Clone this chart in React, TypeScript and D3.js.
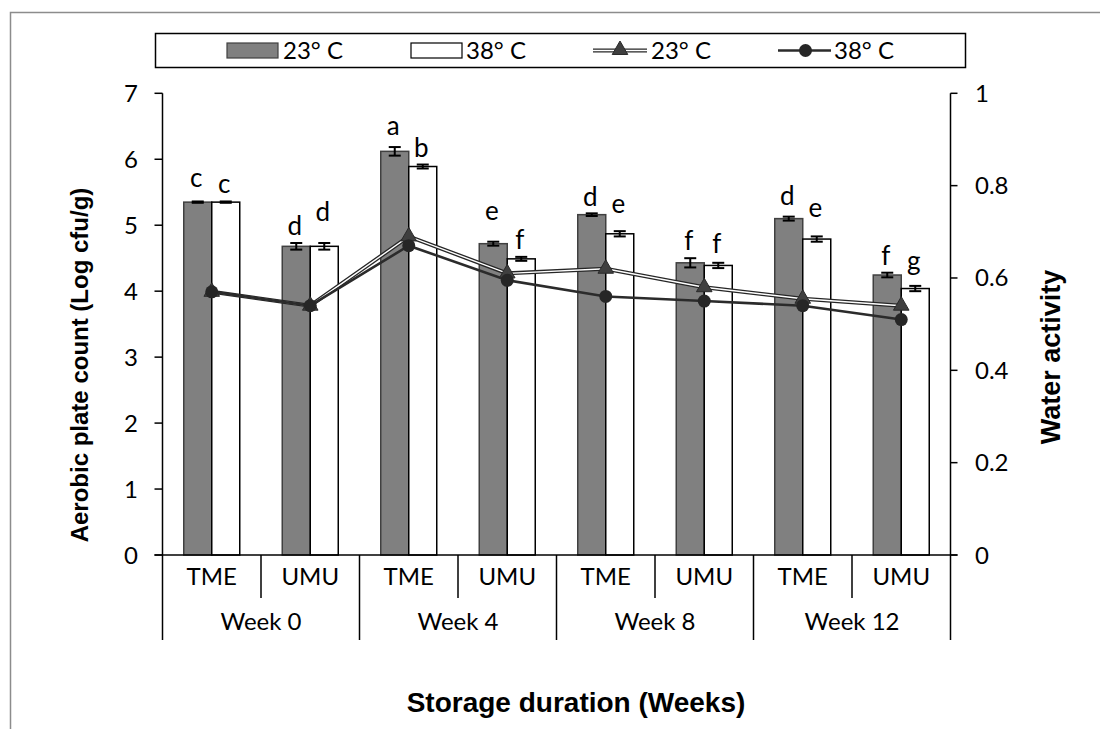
import React from "react";
import * as d3 from "d3";

// Storage duration groups and product codes on the category axis
const weeks = ["Week 0", "Week 4", "Week 8", "Week 12"];
const products = ["TME", "UMU"];
const categories = weeks.flatMap((w) => products.map((p) => `${w}|${p}`));

// Aerobic plate count (Log cfu/g) with standard errors
const apc23 = [5.35, 4.68, 6.12, 4.72, 5.16, 4.43, 5.1, 4.245];
const apc23Err = [0.01, 0.05, 0.065, 0.03, 0.02, 0.07, 0.03, 0.035];
const apc38 = [5.35, 4.68, 5.89, 4.49, 4.87, 4.39, 4.79, 4.04];
const apc38Err = [0.01, 0.05, 0.03, 0.03, 0.04, 0.04, 0.04, 0.04];

// Significance letters above bars
const letters23 = ["c", "d", "a", "e", "d", "f", "d", "f"];
const letters38 = ["c", "d", "b", "f", "e", "f", "e", "g"];

// Water activity
const aw23 = [0.57, 0.54, 0.69, 0.61, 0.62, 0.58, 0.555, 0.54];
const aw38 = [0.57, 0.54, 0.67, 0.595, 0.56, 0.55, 0.54, 0.51];

// Axis ticks
const leftTicks = [0, 1, 2, 3, 4, 5, 6, 7];
const rightTicks = [0, 0.2, 0.4, 0.6, 0.8, 1];

const seriesKeys = ["23", "38"];

// Extra pixel lift of each letter above its error cap (23 °C, 38 °C)
const liftA = [14, 8, 12, 22, 7, 8, 12, 8];
const liftB = [8, 22, 8, 8, 18, 10, 19, 16];

const W = 1100;
const H = 729;
const plot = { left: 162.5, right: 950.5, top: 93.3, bottom: 555 };
const LABEL_FONT = "Lato, 'Open Sans', sans-serif";
const TITLE_FONT = "'Liberation Sans', Arial, sans-serif";

export default function App() {
  const x = d3.scaleBand<string>().domain(categories).range([plot.left, plot.right]).padding(0);
  const inner = d3.scaleBand<string>().domain(seriesKeys).range([-28, 28]).padding(0);
  const yL = d3.scaleLinear().domain([0, 7]).range([plot.bottom, plot.top]);
  const yR = d3.scaleLinear().domain([0, 1]).range([plot.bottom, plot.top]);
  const cx = (i: number) => (x(categories[i]) as number) + x.bandwidth() / 2;

  const line = d3
    .line<number>()
    .x((_, i) => cx(i))
    .y((d) => yR(d));

  const tri = d3.symbol().type(d3.symbolTriangle).size(105)();

  const bars = [
    { key: "23", vals: apc23, errs: apc23Err, letters: letters23, lift: liftA, fill: "#808080", stroke: "#404040" },
    { key: "38", vals: apc38, errs: apc38Err, letters: letters38, lift: liftB, fill: "#ffffff", stroke: "#000000" },
  ];

  const weekBounds = d3.range(weeks.length + 1).map((k) => plot.left + k * 2 * x.bandwidth());

  return (
    <svg
      width={W}
      height={H}
      style={{ position: "absolute", left: 0, top: 0, display: "block", background: "#fff" }}
    >
      {/* outer frame */}
      <rect x={10.5} y={12.5} width={1200} height={800} fill="none" stroke="#8c8c8c" strokeWidth={1.5} />

      {/* legend */}
      <g fontFamily={LABEL_FONT} fontSize={24} fill="#000">
        <rect x={155.5} y={33.5} width={810} height={34} fill="#fff" stroke="#000" strokeWidth={1.5} />
        <rect x={227} y={43} width={51} height={15} fill="#808080" stroke="#404040" strokeWidth={1.2} />
        <text x={283} y={59}>23° C</text>
        <rect x={411} y={43} width={51} height={15} fill="#fff" stroke="#000" strokeWidth={1.2} />
        <text x={466} y={59}>38° C</text>
        <line x1={593} x2={647} y1={50.5} y2={50.5} stroke="#262626" strokeWidth={4} />
        <line x1={593} x2={647} y1={50.5} y2={50.5} stroke="#fff" strokeWidth={1.4} />
        <path d={tri as string} transform="translate(620,50)" fill="#3f3f3f" stroke="#2a2a2a" strokeWidth={1} />
        <text x={651} y={59}>23° C</text>
        <line x1={778} x2={831} y1={50.5} y2={50.5} stroke="#2b2b2b" strokeWidth={2.6} />
        <circle cx={805.5} cy={50.5} r={6.5} fill="#262626" />
        <text x={834} y={59}>38° C</text>
      </g>

      {/* bars */}
      {bars.map((s) =>
        s.vals.map((v, i) => {
          const x0 = (x(categories[i]) as number) + x.bandwidth() / 2 + (inner(s.key) as number);
          return (
            <rect
              key={`b-${s.key}-${i}`}
              x={x0}
              y={yL(v)}
              width={inner.bandwidth()}
              height={yL(0) - yL(v)}
              fill={s.fill}
              stroke={s.stroke}
              strokeWidth={1.5}
            />
          );
        })
      )}

      {/* error bars */}
      {bars.map((s) =>
        s.vals.map((v, i) => {
          const bx = cx(i) + (inner(s.key) as number) + inner.bandwidth() / 2;
          const y1 = yL(v + s.errs[i]);
          const y2 = yL(v - s.errs[i]);
          return (
            <g key={`e-${s.key}-${i}`} stroke="#000" strokeWidth={2}>
              <line x1={bx} x2={bx} y1={y1} y2={y2} />
              <line x1={bx - 6} x2={bx + 6} y1={y1} y2={y1} />
              <line x1={bx - 6} x2={bx + 6} y1={y2} y2={y2} />
            </g>
          );
        })
      )}

      {/* significance letters */}
      <g fontFamily={LABEL_FONT} fontSize={26} textAnchor="middle" fill="#000">
        {bars.map((s) =>
          s.vals.map((v, i) => {
            const bx = cx(i) + (inner(s.key) as number) + inner.bandwidth() / 2;
            return (
              <text key={`l-${s.key}-${i}`} x={bx - 1.5} y={yL(v + s.errs[i]) - s.lift[i]}>
                {s.letters[i]}
              </text>
            );
          })
        )}
      </g>

      {/* water activity lines */}
      <path d={line(aw23) as string} fill="none" stroke="#262626" strokeWidth={4} />
      <path d={line(aw23) as string} fill="none" stroke="#fff" strokeWidth={1.4} />
      {aw23.map((v, i) => (
        <path
          key={`t-${i}`}
          d={tri as string}
          transform={`translate(${cx(i)},${yR(v)})`}
          fill="#3f3f3f"
          stroke="#2a2a2a"
          strokeWidth={1}
        />
      ))}
      <path d={line(aw38) as string} fill="none" stroke="#2b2b2b" strokeWidth={2.6} />
      {aw38.map((v, i) => (
        <circle key={`c-${i}`} cx={cx(i)} cy={yR(v)} r={6.5} fill="#262626" />
      ))}

      {/* left axis */}
      <g fontFamily={LABEL_FONT} fontSize={24} fill="#000">
        <line x1={plot.left} x2={plot.left} y1={plot.top} y2={plot.bottom} stroke="#000" strokeWidth={1.5} />
        {leftTicks.map((t) => (
          <g key={`lt-${t}`}>
            <line x1={plot.left - 8} x2={plot.left} y1={yL(t)} y2={yL(t)} stroke="#000" strokeWidth={1.5} />
            <text x={138} y={yL(t) + 8.5} textAnchor="end">
              {t}
            </text>
          </g>
        ))}
      </g>

      {/* right axis */}
      <g fontFamily={LABEL_FONT} fontSize={24} fill="#000">
        <line x1={plot.right} x2={plot.right} y1={plot.top} y2={plot.bottom} stroke="#000" strokeWidth={1.5} />
        {rightTicks.map((t) => (
          <g key={`rt-${t}`}>
            <line x1={plot.right} x2={plot.right + 7} y1={yR(t)} y2={yR(t)} stroke="#000" strokeWidth={1.5} />
            <text x={975} y={yR(t) + 8.5}>
              {d3.format("~g")(t)}
            </text>
          </g>
        ))}
      </g>

      {/* category axis */}
      <g fontFamily={LABEL_FONT} fontSize={24} fill="#000" textAnchor="middle">
        <line x1={plot.left - 8} x2={plot.right + 7} y1={plot.bottom} y2={plot.bottom} stroke="#000" strokeWidth={1.5} />
        {categories.map((c, i) =>
          i % 2 === 1 ? (
            <line
              key={`s-${c}`}
              x1={x(c) as number}
              x2={x(c) as number}
              y1={plot.bottom}
              y2={598}
              stroke="#000"
              strokeWidth={1.5}
            />
          ) : null
        )}
        {weekBounds.map((bx, k) => (
          <line key={`wb-${k}`} x1={bx} x2={bx} y1={plot.bottom} y2={640} stroke="#000" strokeWidth={1.5} />
        ))}
        {categories.map((c, i) => (
          <text key={`p-${c}`} x={cx(i)} y={585}>
            {products[i % 2]}
          </text>
        ))}
        {weeks.map((w, k) => (
          <text key={`w-${w}`} x={(weekBounds[k] + weekBounds[k + 1]) / 2} y={630}>
            {w}
          </text>
        ))}
      </g>

      {/* axis titles */}
      <g fontFamily={TITLE_FONT} fontWeight="bold" fill="#000" textAnchor="middle">
        <text transform="translate(88,365) rotate(-90)" fontSize={24}>
          Aerobic plate count (Log cfu/g)
        </text>
        <text transform="translate(1060,357) rotate(-90)" fontSize={27}>
          Water activity
        </text>
        <text x={576} y={712} fontSize={28}>
          Storage duration (Weeks)
        </text>
      </g>
    </svg>
  );
}
